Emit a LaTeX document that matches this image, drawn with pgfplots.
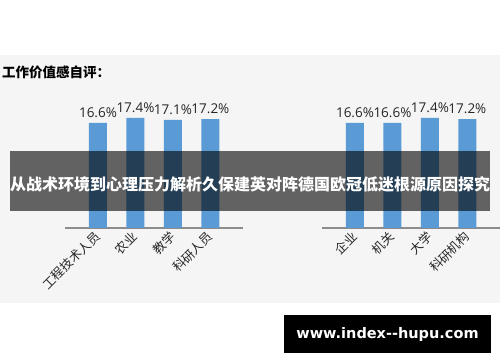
\documentclass[border=0pt]{standalone}
\usepackage{pgfplots}
\pgfplotsset{compat=1.18}
\usepackage{fontspec}
\newfontfamily\cjk{Noto Sans CJK SC}
\newfontfamily\numfont{Open Sans}
\newfontfamily\webfont{DejaVu Sans}
\definecolor{barblue}{HTML}{5B9BD5}
\definecolor{bggray}{HTML}{F5F5F5}
\definecolor{axgray}{HTML}{8C8C8C}
\definecolor{txt}{HTML}{262626}
\pgfplotsset{mybars/.style={
  scale only axis, width=178bp, height=126.6bp,
  xmin=-0.88, xmax=3.87, ymin=0, ymax=20,
  axis x line*=bottom, axis y line=none,
  x axis line style={draw=axgray, line width=1.2bp, -},
  xtick=data, major tick length=0pt, ytick=\empty,
  ybar, bar width=18bp, clip=false,
  xticklabel style={font=\cjk\fontsize{12.5bp}{14bp}\selectfont, text=txt, yshift=-6bp, rotate=45, anchor=east, inner sep=0pt},
  nodes near coords={\pgfmathprintnumber[fixed,fixed zerofill,precision=1,assume math mode=true]{\pgfplotspointmeta}\%},
  every node near coord/.append style={font=\numfont\fontsize{13.5bp}{16bp}\selectfont, text=txt, yshift=2bp},
}}
\begin{document}
\begin{tikzpicture}
\useasboundingbox (0bp,0bp) rectangle (500bp,362bp);
\fill[white] (0bp,0bp) rectangle (500bp,362bp);
\fill[bggray] (0bp,59bp) rectangle (500bp,307bp);
\node[anchor=west, inner sep=0pt, text=black] at (2bp,290bp) {\cjk\bfseries\fontsize{13.5bp}{15bp}\selectfont 工作价值感自评：};
\begin{axis}[mybars, at={(65bp,134bp)}, anchor=south west,
  xticklabels={工程技术人员,农业,教学,科研人员}]
\addplot[fill=barblue, draw=none] coordinates {(0,16.6) (1,17.4) (2,17.1) (3,17.2)};
\end{axis}
\begin{axis}[mybars, at={(322bp,134bp)}, anchor=south west,
  xticklabels={企业,机关,大学,科研机构}]
\addplot[fill=barblue, draw=none] coordinates {(0,16.6) (1,16.6) (2,17.4) (3,17.2)};
\end{axis}
\fill[black, opacity=0.6] (10bp,151bp) rectangle (490bp,211bp);
\node[text=white, inner sep=0pt] at (250bp,178bp) {\cjk\bfseries\fontsize{16bp}{18bp}\selectfont 从战术环境到心理压力解析久保建英对阵德国欧冠低迷根源原因探究};
\fill[black] (284bp,9bp) rectangle (491bp,47bp);
\node[text=white, inner sep=0pt] at (387.5bp,28bp) {\webfont\bfseries\fontsize{14.5bp}{16bp}\selectfont www.index{-}{-}hupu.com};
\end{tikzpicture}
\end{document}
